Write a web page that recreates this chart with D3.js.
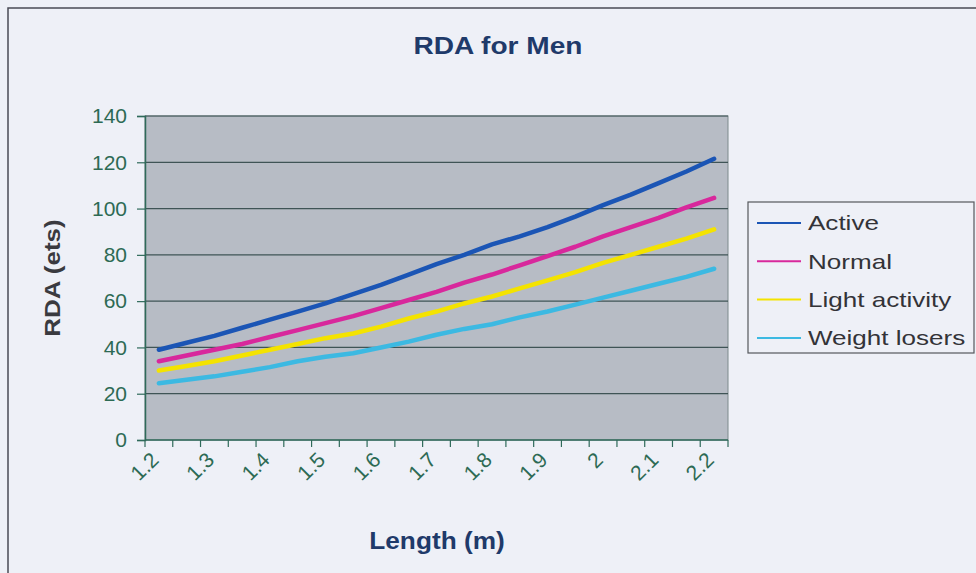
<!DOCTYPE html>
<html>
<head>
<meta charset="utf-8">
<script src="https://cdn.jsdelivr.net/npm/d3@7"></script>
<style>
  html, body { margin: 0; padding: 0; background: #eef0f7; }
  svg { display: block; font-family: "Liberation Sans", Arial, sans-serif; }
</style>
</head>
<body>
<svg id="chart" width="976" height="573"></svg>
<script>
// Body length categories (m), every 0.05
const lengths = [1.20, 1.25, 1.30, 1.35, 1.40, 1.45, 1.50, 1.55, 1.60, 1.65, 1.70,
                 1.75, 1.80, 1.85, 1.90, 1.95, 2.00, 2.05, 2.10, 2.15, 2.20];
// Labelled categories on the x axis
const xTickLabels = ["1.2", "1.3", "1.4", "1.5", "1.6", "1.7", "1.8", "1.9", "2", "2.1", "2.2"];
const yTicks = [0, 20, 40, 60, 80, 100, 120, 140];

const seriesNames = ["Active", "Normal", "Light activity", "Weight losers"];
const active = [39, 42, 45, 48.5, 52, 55.5, 59, 63, 67, 71.5, 76, 80, 84.5, 88, 92, 96.5, 101.5, 106, 111, 116, 121.5];
const normal = [34, 36.5, 39, 41.5, 44.5, 47.5, 50.5, 53.5, 57, 60.5, 64, 68, 71.5, 75.5, 79.5, 83.5, 88, 92, 96, 100.5, 104.6];
const lightActivity = [30, 32, 34, 36.5, 39, 41.5, 44, 46, 49, 52.5, 55.5, 59, 62, 65.5, 69, 72.5, 76.5, 80, 83.5, 87, 91];
const weightLosers = [24.5, 26, 27.5, 29.5, 31.5, 34, 36, 37.5, 40, 42.5, 45.5, 48, 50, 53, 55.5, 58.5, 61.5, 64.5, 67.5, 70.5, 74];
const seriesColors = ["#1b55b5", "#d8289c", "#f4e300", "#3cb9e2"];

const seriesData = [active, normal, lightActivity, weightLosers];

const svg = d3.select("#chart");

// widen a text selection horizontally by a factor
function stretch(sel, factor) {
  sel.each(function () {
    const w = this.getComputedTextLength();
    d3.select(this).attr("textLength", w * factor).attr("lengthAdjust", "spacingAndGlyphs");
  });
}

// outer chart frame
svg.append("rect")
  .attr("x", 8).attr("y", 8).attr("width", 1000).attr("height", 600)
  .attr("fill", "#eef0f7").attr("stroke", "#4a4a55").attr("stroke-width", 1.5);

const plot = { left: 145, right: 728, top: 116, bottom: 440 };

const x = d3.scaleBand()
  .domain(lengths.map(d => d.toFixed(2)))
  .range([plot.left, plot.right])
  .paddingInner(0).paddingOuter(0);

const y = d3.scaleLinear().domain([0, 140]).range([plot.bottom, plot.top]);

// plot area
svg.append("rect")
  .attr("x", plot.left).attr("y", plot.top)
  .attr("width", plot.right - plot.left).attr("height", plot.bottom - plot.top)
  .attr("fill", "#b7bcc5").attr("stroke", "#7d8a8c").attr("stroke-width", 1);

// gridlines
svg.append("g").selectAll("line")
  .data(yTicks.filter(d => d > 0))
  .join("line")
  .attr("x1", plot.left).attr("x2", plot.right)
  .attr("y1", d => y(d)).attr("y2", d => y(d))
  .attr("stroke", "#3f5456").attr("stroke-width", 1.2);

// y axis
const yAxis = d3.axisLeft(y).tickValues(yTicks).tickSize(8).tickPadding(10).tickFormat(d3.format("d"));
const yg = svg.append("g").attr("transform", `translate(${plot.left},0)`).call(yAxis);
yg.select(".domain").attr("stroke", "#2f6a5a").attr("stroke-width", 1.5);
yg.selectAll(".tick line").attr("stroke", "#2f6a5a").attr("stroke-width", 1.2);
yg.selectAll(".tick text")
  .attr("fill", "#2d6a54").attr("font-size", 21)
  .attr("font-family", "Liberation Sans, Arial, sans-serif");

// x axis: ticks at category boundaries
const boundaries = d3.range(lengths.length + 1).map(i => plot.left + i * x.step());
const xg = svg.append("g");
xg.append("line")
  .attr("x1", plot.left).attr("x2", plot.right)
  .attr("y1", plot.bottom).attr("y2", plot.bottom)
  .attr("stroke", "#2f6a5a").attr("stroke-width", 1.5);
xg.selectAll("line.tk").data(boundaries).join("line").attr("class", "tk")
  .attr("x1", d => d).attr("x2", d => d)
  .attr("y1", plot.bottom).attr("y2", plot.bottom + 7)
  .attr("stroke", "#2f6a5a").attr("stroke-width", 1.2);

// labels on every second category
const labelled = lengths.filter((d, i) => i % 2 === 0);
xg.selectAll("text").data(labelled).join("text")
  .attr("transform", d => `translate(${x(d.toFixed(2)) + x.bandwidth() / 2 - 10},${plot.bottom + 10}) rotate(-45)`)
  .attr("text-anchor", "end")
  .attr("dy", "0.75em")
  .attr("fill", "#2d6a54").attr("font-size", 21)
  .text((d, i) => xTickLabels[i]);

// lines
const line = d3.line()
  .x((d, i) => x(lengths[i].toFixed(2)) + x.bandwidth() / 2)
  .y(d => y(d));

svg.append("g").selectAll("path")
  .data(seriesData)
  .join("path")
  .attr("d", d => line(d))
  .attr("fill", "none")
  .attr("stroke", (d, i) => seriesColors[i])
  .attr("stroke-width", 4.5)
  .attr("stroke-linejoin", "round").attr("stroke-linecap", "round");

// title
svg.append("text")
  .attr("x", 498).attr("y", 54)
  .attr("text-anchor", "middle")
  .attr("font-size", 24).attr("font-weight", "bold").attr("fill", "#1f3a6a")
  .text("RDA for Men")
  .call(stretch, 1.17);

// axis titles
svg.append("text")
  .attr("transform", "translate(60,278) rotate(-90)")
  .attr("text-anchor", "middle")
  .attr("font-size", 22).attr("font-weight", "bold").attr("fill", "#3a3a3f")
  .text("RDA (ets)")
  .call(stretch, 1.18);

svg.append("text")
  .attr("x", 437).attr("y", 549)
  .attr("text-anchor", "middle")
  .attr("font-size", 23).attr("font-weight", "bold").attr("fill", "#1f3a6a")
  .text("Length (m)")
  .call(stretch, 1.14);

// legend
const legend = svg.append("g");
legend.append("rect")
  .attr("x", 748).attr("y", 202).attr("width", 226).attr("height", 151)
  .attr("fill", "#eef0f7").attr("stroke", "#55585c").attr("stroke-width", 1.2);

const items = legend.selectAll("g.item").data(seriesNames).join("g").attr("class", "item")
  .attr("transform", (d, i) => `translate(0,${223 + i * 38.3})`);
items.append("line")
  .attr("x1", 757).attr("x2", 801).attr("y1", 0).attr("y2", 0)
  .attr("stroke", (d, i) => seriesColors[i]).attr("stroke-width", 2);
items.append("text")
  .attr("x", 808).attr("y", 0).attr("dy", "0.35em")
  .attr("font-size", 21).attr("fill", "#333338")
  .text(d => d)
  .call(stretch, 1.24);
</script>
</body>
</html>
